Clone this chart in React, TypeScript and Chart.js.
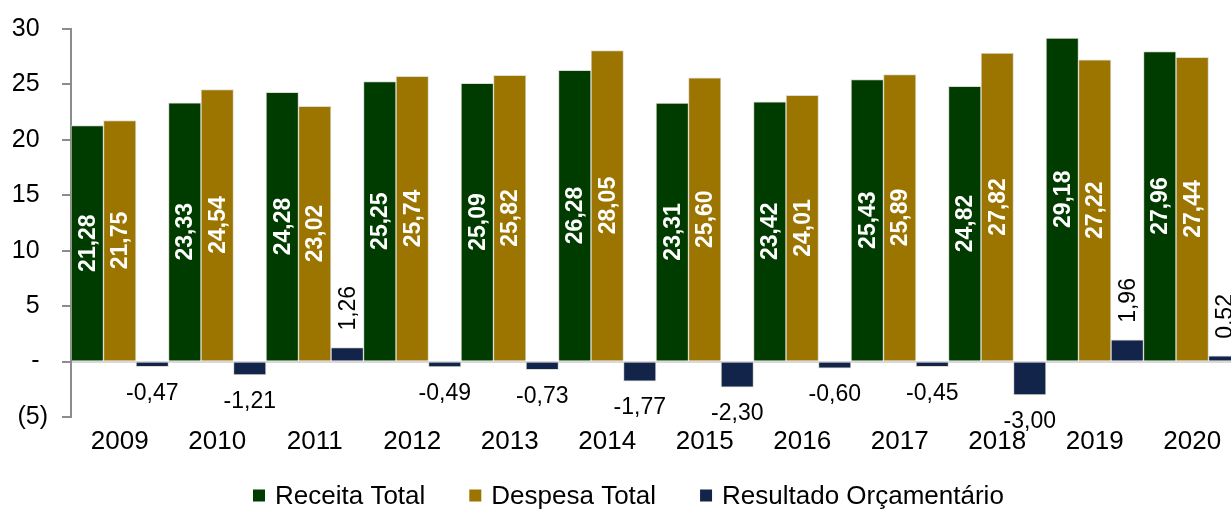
import { useEffect, useRef } from 'react';
import { Chart, registerables } from 'chart.js';

Chart.register(...registerables);

const FONT = "'Liberation Sans', Arial, sans-serif";

const categories = ['2009', '2010', '2011', '2012', '2013', '2014', '2015', '2016', '2017', '2018', '2019', '2020'];
const receitaTotal = [21.28, 23.33, 24.28, 25.25, 25.09, 26.28, 23.31, 23.42, 25.43, 24.82, 29.18, 27.96];
const despesaTotal = [21.75, 24.54, 23.02, 25.74, 25.82, 28.05, 25.6, 24.01, 25.89, 27.82, 27.22, 27.44];
const resultadoOrcamentario = [-0.47, -1.21, 1.26, -0.49, -0.73, -1.77, -2.3, -0.6, -0.45, -3.0, 1.96, 0.52];

const seriesNames = ['Receita Total', 'Despesa Total', 'Resultado Orçamentário'];
const seriesColors = ['#003b00', '#9b7500', '#13244a'];

const yMin = -5;
const yMax = 30;
const yStep = 5;

const fmt = (v: number) => v.toFixed(2).replace('.', ',');
const tickLabel = (v: number) => (v > 0 ? `${v}\u2004` : v === 0 ? '-\u2004' : `(${-v})`);

const valueLabels = {
  id: 'valueLabels',
  afterDatasetsDraw(chart: any) {
    const ctx = chart.ctx;
    chart.data.datasets.forEach((ds: any, di: number) => {
      const meta = chart.getDatasetMeta(di);
      meta.data.forEach((el: any, i: number) => {
        const v = ds.data[i] as number;
        const { x, y, base } = el.getProps(['x', 'y', 'base'], true);
        ctx.save();
        if (di < 2) {
          ctx.translate(x, (y + base) / 2);
          ctx.rotate(-Math.PI / 2);
          ctx.font = `bold 23px ${FONT}`;
          ctx.fillStyle = '#ffffff';
          ctx.textAlign = 'center';
          ctx.textBaseline = 'middle';
          ctx.fillText(fmt(v), 0, 1);
        } else if (v < 0) {
          ctx.font = `23px ${FONT}`;
          ctx.fillStyle = '#000000';
          ctx.textAlign = 'center';
          ctx.textBaseline = 'alphabetic';
          ctx.fillText(fmt(v), x, y + 33);
        } else {
          ctx.translate(x, y - 17);
          ctx.rotate(-Math.PI / 2);
          ctx.font = `23px ${FONT}`;
          ctx.fillStyle = '#000000';
          ctx.textAlign = 'left';
          ctx.textBaseline = 'middle';
          ctx.fillText(fmt(v), 0, 1);
        }
        ctx.restore();
      });
    });
  },
};

const customLegend = {
  id: 'customLegend',
  afterDraw(chart: any) {
    const ctx = chart.ctx;
    ctx.save();
    ctx.font = `26px ${FONT}`;
    ctx.textBaseline = 'middle';
    ctx.textAlign = 'left';
    let x = 253;
    const cy = 495.5;
    chart.data.datasets.forEach((ds: any) => {
      ctx.fillStyle = ds.backgroundColor;
      ctx.fillRect(x, cy - 6, 12, 12);
      x += 22;
      ctx.fillStyle = '#000000';
      ctx.fillText(ds.label, x, cy + 1);
      x += ctx.measureText(ds.label).width + 44;
    });
    ctx.restore();
  },
};

export default function App() {
  const canvasRef = useRef<HTMLCanvasElement | null>(null);

  useEffect(() => {
    document.body.style.margin = '0';
    const canvas = canvasRef.current;
    if (!canvas) return;
    const seriesData = [receitaTotal, despesaTotal, resultadoOrcamentario];
    const chart = new Chart(canvas, {
      type: 'bar',
      data: {
        labels: categories,
        datasets: seriesNames.map((name, i) => ({
          label: name,
          data: seriesData[i],
          backgroundColor: seriesColors[i],
          borderColor: 'rgba(215,215,205,0.85)',
          borderWidth: 1,
          categoryPercentage: 1,
          barPercentage: 1,
        })),
      },
      options: {
        responsive: false,
        animation: false,
        devicePixelRatio: 1,
        layout: { padding: { top: 25, left: 0, right: 0, bottom: 0 } },
        plugins: {
          legend: { display: false },
          tooltip: { enabled: false },
        },
        scales: {
          x: {
            grid: { display: false, drawTicks: false },
            border: { display: false },
            ticks: {
              color: '#000000',
              font: { family: FONT, size: 26 },
              padding: 9,
              maxRotation: 0,
              autoSkip: false,
            },
            afterFit: (scale: any) => {
              scale.height = 92;
            },
          },
          y: {
            min: yMin,
            max: yMax,
            grid: {
              display: true,
              drawOnChartArea: true,
              drawTicks: true,
              tickLength: 9,
              lineWidth: 2,
              color: (c: any) => (c.tick && c.tick.value === 0 ? '#d9d9d9' : 'rgba(0,0,0,0)'),
              tickColor: '#8c8c8c',
            },
            border: { display: true, color: '#8c8c8c', width: 2 },
            ticks: {
              stepSize: yStep,
              color: '#000000',
              font: { family: FONT, size: 25 },
              padding: 14,
              callback: (v: any) => tickLabel(Number(v)),
            },
            afterFit: (scale: any) => {
              scale.width = 71;
            },
          },
        },
      },
      plugins: [valueLabels, customLegend],
    });
    return () => chart.destroy();
  }, []);

  return (
    <div style={{ width: 1231, height: 509, overflow: 'hidden', position: 'relative', background: '#ffffff' }}>
      <canvas ref={canvasRef} width={1241} height={509} style={{ display: 'block', width: 1241, height: 509 }} />
    </div>
  );
}
